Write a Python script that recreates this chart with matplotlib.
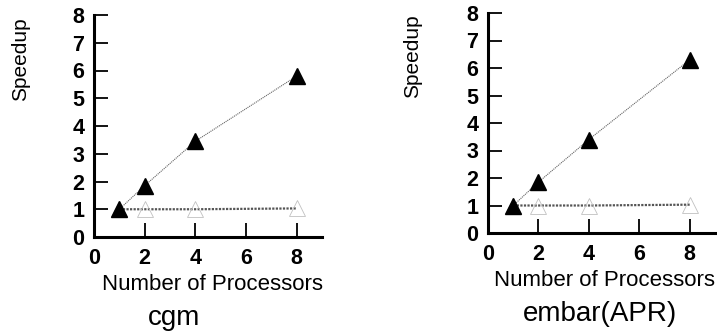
import matplotlib
matplotlib.use("Agg")
import matplotlib.pyplot as plt

plt.rcParams['font.family'] = ['Liberation Sans', 'DejaVu Sans']

procs = [1, 2, 4, 8]
cgm_filled = [1.0, 1.85, 3.45, 5.8]
cgm_hollow = [1.0, 1.0, 1.0, 1.03]
embar_filled = [1.0, 1.85, 3.4, 6.3]
embar_hollow = [1.0, 1.0, 1.0, 1.03]
xticks = [0, 2, 4, 6, 8]
yticks = [0, 1, 2, 3, 4, 5, 6, 7, 8]

W, H = 717, 334
fig = plt.figure(figsize=(W / 100, H / 100), dpi=100)
ax1 = fig.add_axes([94 / W, 1 - 237 / H, 228 / W, 222 / H])
ax2 = fig.add_axes([488 / W, 1 - 233 / H, 227 / W, 220 / H])

def px(x, y):
    return x / W, 1 - y / H

def style(ax, filled, hollow):
    ax.plot(procs, hollow, color='#555555', lw=1.6, ls=(0, (1, 0.6)), zorder=2)
    ax.plot(procs, hollow, ls='none', marker='^', ms=11, mfc='none', mec='#c0c0c0', mew=0.6, zorder=3)
    ax.plot(procs, filled, color='#666666', lw=0.8, ls=(0, (1, 0.8)), zorder=2)
    ax.plot(procs, filled, ls='none', marker='^', ms=12, mfc='black', mec='black', zorder=4)
    ax.set_xlim(0, 9)
    ax.set_ylim(0, 8)
    ax.set_xticks(xticks)
    ax.set_yticks(yticks)
    for s in ['top', 'right']:
        ax.spines[s].set_visible(False)
    for s in ['left', 'bottom']:
        ax.spines[s].set_linewidth(2.2)
    ax.tick_params(direction='in', length=10, width=1.3, labelsize=15.5)
    ax.tick_params(axis='y', pad=7)
    ax.tick_params(axis='x', pad=8)
    for lab in ax.get_xticklabels() + ax.get_yticklabels():
        lab.set_fontweight('bold')

style(ax1, cgm_filled, cgm_hollow)
style(ax2, embar_filled, embar_hollow)

fig.text(*px(21, 59), 'Speedup', rotation=90, ha='center', va='center', fontsize=15)
fig.text(*px(413, 56), 'Speedup', rotation=90, ha='center', va='center', fontsize=15)
fig.text(*px(212, 284), 'Number of Processors', ha='center', va='center', fontsize=16)
fig.text(*px(605, 281), 'Number of Processors', ha='center', va='center', fontsize=16)
fig.text(*px(174, 318), 'cgm', ha='center', va='center', fontsize=20)
fig.text(*px(600, 314), 'embar(APR)', ha='center', va='center', fontsize=20)

fig.savefig('out.png', dpi=100)
